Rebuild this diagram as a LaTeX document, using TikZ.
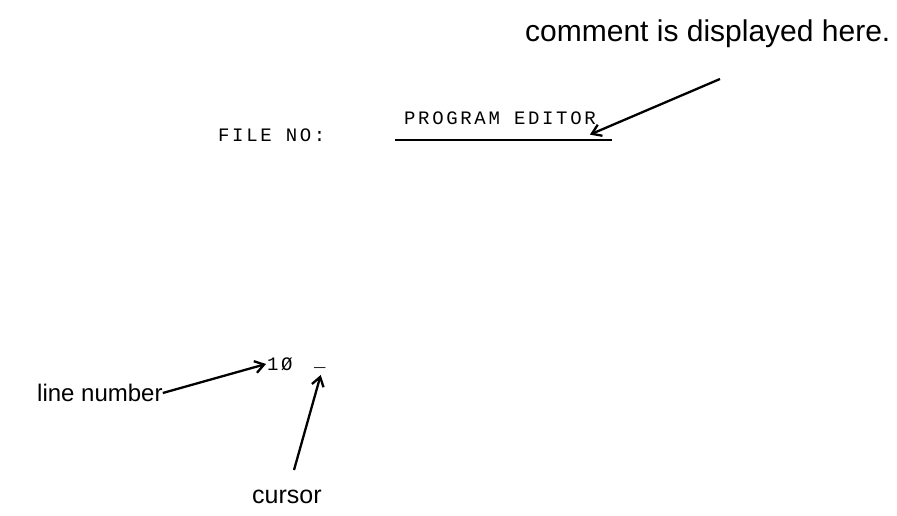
\documentclass[tikz,border=0pt]{standalone}
\usepackage{fontspec}
\setmainfont{Liberation Sans}
\newfontfamily\termfont[LetterSpace=14]{Liberation Mono}
\usetikzlibrary{arrows.meta}
\tikzset{
  label/.style={inner sep=0pt, anchor=base west, font=\fontsize{24}{28}\selectfont},
  term/.style={inner sep=0pt, anchor=base west, font=\termfont\fontsize{19}{21}\selectfont},
  pointer/.style={line width=2.3pt, -{Straight Barb[length=9pt,width=12pt,line width=2.3pt]}, shorten >=1pt}
}
\begin{document}
\begin{tikzpicture}[x=1pt,y=-1pt]
\useasboundingbox (0,0) rectangle (897,516);
\node[label, font=\fontsize{30}{34}\selectfont] (comment) at (525,42) {comment is displayed here.};
\node[term] (title) at (404,125) {PROGRAM EDITOR};
\node[term] (file) at (218,142) {FILE NO:};
\coordinate (ulA) at (395,140);
\coordinate (ulB) at (612,140);
\draw[line width=2.2pt] (ulA) -- (ulB);
\coordinate (ctip) at (589,135);
\coordinate (cstart) at (720,79);
\draw[pointer] (cstart) -- (ctip);
\node[term] (num) at (267,370) {1Ø};
\node[term] (cur) at (314,366) {\_};
\node[label] (ln) at (37,401) {line number};
\path (ln.base east) ++(0,-8) coordinate (lnA);
\draw[pointer] (lnA) -- (num.west);
\node[label, font=\fontsize{25}{29}\selectfont] (cursor) at (252,503) {cursor};
\coordinate (cusA) at (294,470);
\coordinate (cusB) at (321,374);
\draw[pointer] (cusA) -- (cusB);
\end{tikzpicture}
\end{document}
